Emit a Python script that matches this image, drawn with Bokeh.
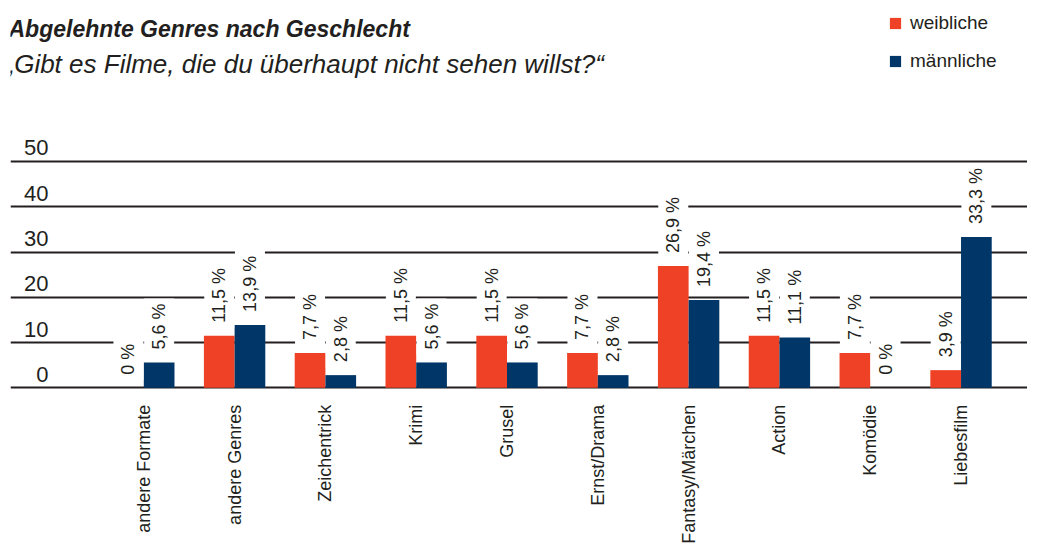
from math import pi
from bokeh.plotting import figure
from bokeh.models import (ColumnDataSource, Range1d, Grid, FixedTicker, LabelSet,
                          Label, Legend, LegendItem)
from bokeh.core.properties import value
from bokeh.embed import file_html
from bokeh.resources import INLINE

# ---- data ----
categories = ["andere Formate", "andere Genres", "Zeichentrick", "Krimi", "Grusel",
              "Ernst/Drama", "Fantasy/Märchen", "Action", "Komödie", "Liebesfilm"]
weibliche = [0, 11.5, 7.7, 11.5, 11.5, 7.7, 26.9, 11.5, 7.7, 3.9]
maennliche = [5.6, 13.9, 2.8, 5.6, 5.6, 2.8, 19.4, 11.1, 0, 33.3]
y_ticks = [0, 10, 20, 30, 40, 50]
y_tick_labels = ["0", "10", "20", "30", "40", "50"]
series_names = ["weibliche", "männliche"]

TITLE = "Abgelehnte Genres nach Geschlecht"
SUBTITLE = "„Gibt es Filme, die du überhaupt nicht sehen willst?“"

RED = "#EE4125"
BLUE = "#003768"
TEXT = "#231F20"
FONT = "Liberation Sans"


def fmt(v):
    s = f"{v:.1f}".replace(".", ",")
    if s.endswith(",0"):
        s = s[:-2]
    return s + " %"


idx = list(range(len(categories)))
bw = 0.338
src = ColumnDataSource(dict(
    x=idx,
    xf=[i - bw / 2 for i in idx],
    xm=[i + bw / 2 for i in idx],
    w=weibliche,
    m=maennliche,
    wl=[fmt(v) for v in weibliche],
    ml=[fmt(v) for v in maennliche],
    cat=categories,
    zero=[0] * len(idx),
))

p = figure(width=1027, height=544, output_backend="svg", toolbar_location=None,
           x_range=Range1d(-1.468, 9.732), y_range=Range1d(-34.62, 85.57),
           x_axis_location=None, y_axis_location=None,
           min_border_left=10, min_border_right=0, min_border_top=0, min_border_bottom=0,
           outline_line_color=None, background_fill_color="white",
           border_fill_color="white")
p.grid.visible = False

p.add_layout(Grid(dimension=1, ticker=FixedTicker(ticks=y_ticks),
                  grid_line_color=TEXT, grid_line_width=2))

r_w = p.vbar(x="xf", top="w", bottom=0, width=bw, fill_color=RED, line_color=None, source=src)
r_m = p.vbar(x="xm", top="m", bottom=0, width=bw, fill_color=BLUE, line_color=None, source=src)

common = dict(angle=pi / 2, text_align="left", text_baseline="middle", y_offset=-8,
              text_font=value(FONT), text_font_size="18px", text_color=TEXT,
              background_fill_color="white", padding=5, source=src)
p.text(x="xf", y="w", text="wl", **common)
p.text(x="xm", y="m", text="ml", **common)

# category labels
p.text(x="x", y="zero", text="cat", angle=pi / 2, text_align="right", text_baseline="middle",
       y_offset=17, text_font=value(FONT), text_font_size="18px", text_color=TEXT, source=src)

# y tick labels
tsrc = ColumnDataSource(dict(y=y_ticks, t=y_tick_labels))
p.add_layout(LabelSet(x=38, x_units="screen", y="y", text="t", y_offset=6,
                      text_align="right", text_baseline="alphabetic",
                      text_font=value(FONT), text_font_size="22px", text_color=TEXT,
                      source=tsrc))

# titles
p.add_layout(Label(x=-2, y=516, x_units="screen", y_units="screen", text=TITLE,
                   text_font=FONT, text_font_style="bold italic", text_font_size="23px",
                   text_color=TEXT, text_baseline="alphabetic"))
p.add_layout(Label(x=-5, y=481, x_units="screen", y_units="screen", text=SUBTITLE,
                   text_font=FONT, text_font_style="italic", text_font_size="26px",
                   text_color=TEXT, text_baseline="alphabetic"))

legend = Legend(items=[LegendItem(label=series_names[0], renderers=[r_w]),
                       LegendItem(label=series_names[1], renderers=[r_m])],
                location=(878, 472), glyph_width=14, glyph_height=14, label_height=22,
                spacing=16, padding=0, margin=0, border_line_color=None,
                background_fill_alpha=0, label_standoff=8, label_text_font=FONT,
                label_text_font_size="19px", label_text_color=TEXT)
p.add_layout(legend)

open("out.html", "w").write(file_html(p, INLINE))
